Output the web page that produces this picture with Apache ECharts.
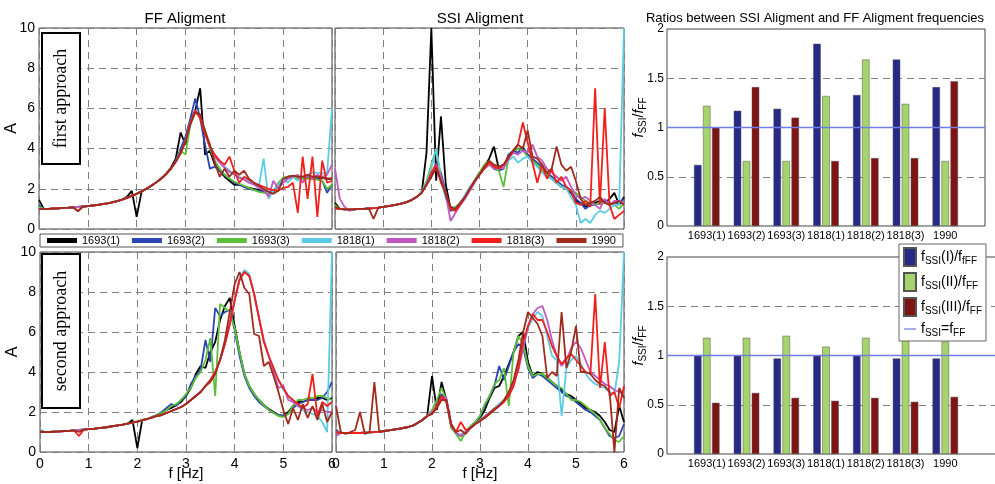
<!DOCTYPE html>
<html><head><meta charset="utf-8">
<script src="https://cdn.jsdelivr.net/npm/echarts@6/dist/echarts.min.js"></script>
<style>html,body{margin:0;padding:0;background:#fff}#c{width:995px;height:484px}</style>
</head><body><div id="c"></div>
<script>
// ---------- DATA ----------
const freq = [0,0.1,0.2,0.3,0.4,0.5,0.6,0.7,0.8,0.9,1.0,1.1,1.2,1.3,1.4,1.5,1.6,1.7,1.8,1.9,2.0,2.1,2.2,2.3,2.4,2.5,2.6,2.7,2.8,2.9,3.0,3.1,3.2,3.3,3.4,3.5,3.6,3.7,3.8,3.9,4.0,4.1,4.2,4.3,4.4,4.5,4.6,4.7,4.8,4.9,5.0,5.1,5.2,5.3,5.4,5.5,5.6,5.7,5.8,5.9,6.0];
const seriesNames = ['1693(1)','1693(2)','1693(3)','1818(1)','1818(2)','1818(3)','1990'];

// FF alignment, first approach (rows follow seriesNames)
const ffFirst = [
 [1.45,1.0,1.0,1.01,1.03,1.05,1.06,1.08,1.1,1.12, 1.14,1.17,1.2,1.24,1.28,1.33,1.39,1.46,1.6,1.9, 0.6,1.85,2.0,2.15,2.32,2.5,2.75,3.05,3.5,4.8, 4.2,5.4,5.9,7.0,3.7,3.9,3.2,2.9,2.6,2.4, 2.2,2.2,2.1,2.05,2.0,1.95,1.9,1.85,1.8,2.2, 2.5,2.6,2.6,2.55,2.6,2.55,2.6,2.5,2.55,2.5,2.5],
 [1.2,1.0,1.0,1.02,1.03,1.05,1.06,1.08,1.1,1.12, 1.14,1.17,1.2,1.24,1.28,1.33,1.39,1.46,1.55,1.65, 1.75,1.87,2.0,2.15,2.32,2.5,2.72,3.0,3.4,4.0, 4.6,5.5,6.5,5.5,4.2,3.0,3.1,2.9,2.7,2.5, 2.3,2.2,2.1,2.0,1.95,1.9,1.85,1.85,1.9,2.2, 2.5,2.55,2.6,2.6,2.5,2.55,2.5,2.5,2.4,1.8,2.2],
 [1.1,1.0,1.0,1.02,1.03,1.05,1.06,1.08,1.1,1.12, 1.14,1.17,1.2,1.24,1.28,1.33,1.39,1.46,1.55,1.65, 1.76,1.88,2.0,2.15,2.32,2.5,2.72,3.0,3.35,3.9, 3.7,5.2,5.8,5.6,4.9,4.0,3.4,3.0,2.7,2.5, 2.35,2.25,2.15,2.05,1.95,1.85,1.8,1.78,1.85,2.3, 2.55,2.6,2.6,2.55,2.5,2.5,2.5,2.45,2.4,2.0,2.2],
 [1.0,1.0,1.0,1.02,1.03,1.05,1.06,1.08,1.1,1.12, 1.14,1.17,1.2,1.24,1.28,1.33,1.39,1.46,1.55,1.65, 1.75,1.87,2.0,2.15,2.32,2.5,2.72,3.0,3.35,3.75, 4.4,5.3,5.85,5.6,4.8,4.1,3.6,3.3,3.1,2.9, 2.75,2.6,2.5,2.35,2.25,2.1,3.5,1.5,1.9,2.2, 2.5,2.3,2.6,2.4,2.6,2.7,2.8,2.8,2.75,2.8,6.0],
 [1.0,1.0,1.0,1.02,1.03,1.05,1.06,1.08,1.1,1.12, 1.14,1.17,1.2,1.24,1.28,1.33,1.39,1.46,1.55,1.65, 1.75,1.87,2.0,2.15,2.32,2.5,2.72,3.0,3.35,3.75, 4.4,5.3,5.85,5.6,4.8,4.1,3.6,3.3,3.05,2.85, 2.7,2.55,2.45,2.3,2.2,2.05,1.95,1.6,2.4,2.0, 2.3,2.5,2.6,2.7,2.3,2.7,2.5,2.7,2.6,2.7,3.2],
 [1.0,1.0,1.0,1.02,1.03,1.05,1.06,1.08,0.9,1.12, 1.14,1.17,1.2,1.24,1.28,1.33,1.39,1.46,1.55,1.65, 1.75,1.87,2.0,2.15,2.32,2.5,2.72,3.0,3.35,3.75, 4.35,5.3,5.9,5.5,4.7,4.1,3.7,3.4,3.2,3.6, 2.9,2.3,2.6,2.45,2.3,2.2,2.1,2.0,1.95,1.9, 2.05,2.1,2.3,0.8,3.6,1.5,3.6,0.6,3.4,2.3,2.4],
 [1.0,1.0,1.0,1.02,1.03,1.05,1.06,1.08,0.88,1.12, 1.14,1.17,1.2,1.24,1.28,1.33,1.39,1.46,1.55,1.65, 1.75,1.87,2.0,2.15,2.32,2.5,2.72,3.0,3.35,3.8, 4.4,5.2,5.8,5.7,4.9,4.2,3.3,2.6,3.0,2.6, 2.9,2.7,2.9,2.5,2.3,2.15,2.0,1.85,1.75,1.9, 2.5,2.6,2.65,2.6,2.6,2.7,2.6,2.6,2.55,2.5,2.5]
];
// SSI alignment, first approach
const ssiFirst = [
 [1.3,1.0,0.98,0.98,0.98,1.0,1.0,1.02,1.04,1.06, 1.1,1.14,1.18,1.22,1.28,1.35,1.45,1.6,1.8,3.8, 10,2.4,5.6,2.2,1.0,0.95,1.3,1.6,2.0,2.4, 2.8,3.1,3.5,4.1,3.0,3.1,3.6,3.9,4.0,4.0, 3.7,3.4,3.2,2.9,2.7,2.5,2.3,2.1,2.0,1.8, 1.4,1.3,1.1,1.2,1.3,1.4,1.3,1.5,1.8,1.2,1.6],
 [1.1,1.0,0.98,0.98,0.98,1.0,1.0,1.02,1.04,1.06, 1.1,1.14,1.18,1.22,1.28,1.35,1.45,1.6,1.85,2.2, 2.6,3.3,2.8,1.8,0.9,1.0,1.3,1.6,2.0,2.4, 2.8,3.1,3.3,3.0,2.9,3.0,3.7,3.9,3.8,4.1, 3.7,3.5,3.3,3.1,2.8,2.6,2.4,2.2,2.1,1.9, 1.5,1.3,1.0,1.2,1.2,1.3,1.4,1.3,1.2,1.3,1.5],
 [1.2,1.0,0.98,0.98,0.98,1.0,1.0,1.02,1.04,1.06, 1.1,1.14,1.18,1.22,1.28,1.35,1.45,1.6,1.85,2.4, 3.2,4.0,2.6,1.6,1.0,1.1,1.3,1.6,2.0,2.4, 2.8,3.2,3.4,3.1,2.9,2.1,3.5,3.9,4.0,3.9, 3.6,3.4,3.2,2.9,2.7,2.5,2.3,2.1,2.0,1.9, 1.8,1.6,1.4,1.3,1.2,1.3,1.3,1.3,1.2,1.0,1.3],
 [1.0,1.0,0.98,0.98,0.98,1.0,1.0,1.02,1.04,1.06, 1.1,1.14,1.18,1.22,1.28,1.35,1.45,1.6,1.85,2.3, 3.0,4.0,2.5,1.5,1.1,1.0,1.3,1.7,2.1,2.4, 2.7,3.0,3.2,3.1,3.0,3.1,3.4,3.6,3.3,3.5, 3.6,3.3,3.1,2.8,2.6,2.5,2.3,2.1,2.0,1.6, 1.2,0.3,0.5,0.3,0.7,0.9,0.8,1.0,1.2,1.2,10],
 [3.0,1.5,1.1,0.9,1.0,1.0,1.0,1.02,1.04,1.06, 1.1,1.14,1.18,1.22,1.28,1.35,1.45,1.6,1.8,2.2, 2.8,3.2,2.6,1.7,0.4,0.8,1.2,1.5,1.9,2.3, 2.7,3.0,3.2,3.0,3.1,3.0,3.5,3.8,3.7,3.9, 3.8,4.2,3.6,3.4,3.0,2.8,2.6,2.4,2.6,2.1, 1.7,1.5,1.6,1.4,1.2,1.0,1.5,1.2,1.4,1.4,1.3],
 [1.0,1.0,0.98,0.98,0.98,1.0,1.0,1.02,1.04,1.06, 1.1,1.14,1.18,1.22,1.28,1.35,1.45,1.6,1.8,2.2, 2.8,3.2,2.3,1.8,1.0,0.9,1.2,1.6,2.0,2.4, 2.7,3.0,3.3,3.1,3.0,3.2,3.5,3.9,4.2,5.3, 4.3,3.3,2.3,3.2,2.5,3.0,2.3,2.6,2.1,1.9, 1.3,1.2,1.4,1.1,7.0,1.2,6.0,1.2,0.5,0.7,0.9],
 [1.1,1.0,0.98,0.98,0.98,1.0,1.0,1.02,0.5,1.06, 1.1,1.14,1.18,1.22,1.28,1.35,1.45,1.6,1.8,2.2, 2.6,3.0,2.4,1.7,1.1,1.0,1.3,1.6,2.0,2.4, 2.7,3.1,3.4,3.2,3.1,3.2,3.6,3.9,4.2,4.0, 4.9,3.6,3.5,3.2,2.8,3.0,4.1,3.2,2.9,3.1, 2.4,1.5,1.2,1.3,1.4,1.6,1.3,1.2,1.3,1.4,1.2]
];
// FF alignment, second approach
const ffSecond = [
 [1.0,1.0,1.0,1.02,1.03,1.05,1.06,1.08,1.1,1.12, 1.14,1.16,1.19,1.22,1.25,1.29,1.33,1.37,1.42,1.6, 0.2,1.6,1.65,1.75,1.85,1.95,2.1,2.2,2.35,2.5, 2.8,3.2,3.9,4.3,4.2,5.0,5.5,6.6,7.3,7.7, 6.3,5.0,3.9,3.3,2.9,2.6,2.35,2.15,2.0,1.85, 1.8,2.0,2.3,2.5,2.5,2.6,2.6,2.7,2.7,2.6,2.7],
 [1.1,1.0,1.0,1.02,1.03,1.05,1.06,1.08,1.1,1.12, 1.14,1.16,1.19,1.22,1.25,1.29,1.33,1.37,1.42,1.47, 1.52,1.58,1.65,1.75,1.85,2.0,2.2,2.4,2.3,2.6, 2.8,3.4,3.8,4.1,5.6,4.5,7.2,6.8,7.0,7.1, 6.1,4.8,3.8,3.2,2.8,2.5,2.3,2.1,1.95,1.85, 1.8,1.9,2.2,2.4,2.5,2.6,2.6,2.6,2.7,3.0,3.5],
 [1.05,1.0,1.0,1.02,1.03,1.05,1.06,1.08,1.1,1.12, 1.14,1.16,1.19,1.22,1.25,1.29,1.33,1.37,1.42,1.47, 1.55,1.6,1.65,1.75,1.85,1.95,2.1,2.3,2.4,2.6, 2.9,3.2,3.7,4.0,4.6,5.7,2.8,7.4,7.2,7.0, 6.2,5.0,3.9,3.3,2.9,2.6,2.35,2.1,1.95,1.8, 1.75,1.9,2.3,2.6,2.6,2.7,2.7,2.8,2.8,2.7,2.6],
 [1.0,1.0,1.0,1.02,1.03,1.05,1.06,1.08,1.1,1.12, 1.14,1.16,1.19,1.22,1.25,1.29,1.33,1.37,1.42,1.47, 1.52,1.58,1.65,1.72,1.8,1.85,1.95,2.05,2.15,2.25, 2.4,2.6,2.8,3.0,3.3,3.6,4.0,4.6,5.4,6.4, 7.6,8.7,9.1,8.9,7.9,6.7,5.5,4.8,4.2,3.6, 3.1,2.8,2.5,2.3,2.1,2.0,1.9,1.8,1.5,1.0,10],
 [1.0,1.0,1.0,1.02,1.03,1.05,1.06,1.08,1.1,1.12, 1.14,1.16,1.19,1.22,1.25,1.29,1.33,1.37,1.42,1.47, 1.52,1.58,1.65,1.72,1.8,1.85,1.95,2.05,2.15,2.25, 2.4,2.6,2.8,3.0,3.3,3.6,4.0,4.6,5.4,6.4, 7.6,8.6,9.0,8.8,7.9,6.7,5.6,4.8,4.0,3.2, 3.3,2.6,2.5,2.3,2.2,2.1,2.2,2.0,2.1,2.0,2.0],
 [1.0,1.0,1.0,1.02,1.03,1.05,1.06,1.08,0.8,1.12, 1.14,1.16,1.19,1.22,1.25,1.29,1.33,1.37,1.42,1.47, 1.52,1.58,1.65,1.72,1.8,1.85,1.95,2.05,2.15,2.25, 2.4,2.6,2.8,3.0,3.3,3.6,4.0,4.6,5.4,6.4, 7.6,8.6,9.0,8.8,7.9,6.7,5.5,4.8,4.2,3.6, 3.2,2.8,2.6,2.4,2.2,2.4,3.9,1.8,2.5,2.3,2.5],
 [1.0,1.0,1.0,1.02,1.03,1.05,1.06,1.08,1.0,1.12, 1.14,1.16,1.19,1.22,1.25,1.29,1.33,1.37,1.42,1.47, 1.52,1.58,1.65,1.72,1.8,1.85,1.95,2.05,2.15,2.25, 2.4,2.6,2.8,3.0,3.3,3.5,3.9,4.6,5.6,7.0, 8.4,9.0,8.2,7.9,5.9,5.8,4.3,4.5,3.8,3.0, 2.1,1.4,2.2,1.6,2.4,1.7,2.3,1.6,2.4,1.5,2.0]
];
// SSI alignment, second approach
const ssiSecond = [
 [1.0,0.95,0.95,0.95,0.95,0.95,0.97,0.98,1.0,1.02, 1.05,1.08,1.12,1.16,1.2,1.25,1.32,1.45,1.6,1.8, 3.8,2.1,3.5,2.6,1.3,0.95,0.8,0.95,1.2,1.45, 1.7,2.1,2.7,3.2,3.3,3.8,4.4,5.0,5.8,6.0, 4.5,3.8,4.0,3.9,3.7,3.5,3.3,3.1,2.9,2.8, 2.6,2.4,2.2,2.1,2.0,1.8,1.5,1.1,1.0,2.3,1.5],
 [1.1,0.95,0.95,0.95,0.95,0.95,0.97,0.98,1.0,1.02, 1.05,1.08,1.12,1.16,1.2,1.25,1.32,1.45,1.6,1.8, 2.0,2.3,2.9,2.5,1.3,0.95,0.85,1.0,1.25,1.5, 1.8,2.3,2.8,3.3,4.3,3.6,4.3,5.0,5.4,5.2, 4.2,3.7,3.9,3.8,3.6,3.4,3.2,3.0,2.8,2.7, 2.5,2.3,2.1,2.0,1.8,1.6,1.2,0.8,0.7,0.8,1.4],
 [1.0,0.95,0.95,0.95,0.95,0.95,0.97,0.98,1.0,1.02, 1.05,1.08,1.12,1.16,1.2,1.25,1.32,1.45,1.6,1.8, 2.1,2.6,3.2,2.6,1.2,0.9,0.55,1.0,1.3,1.5, 1.8,2.4,2.8,3.4,3.6,4.2,2.3,5.0,5.8,5.4, 4.3,3.8,3.9,3.9,3.7,3.5,3.3,3.2,2.9,2.6, 2.6,2.5,2.3,2.1,1.9,1.6,1.2,0.9,0.6,0.5,0.8],
 [1.0,0.95,0.95,0.95,0.95,0.95,0.97,0.98,1.0,1.02, 1.05,1.08,1.12,1.16,1.2,1.25,1.32,1.45,1.6,1.8, 2.0,2.3,2.7,2.5,1.3,0.95,0.85,1.0,1.2,1.4, 1.6,1.8,2.0,2.2,2.4,2.6,2.9,3.5,4.3,5.2, 6.2,6.7,7.0,6.8,5.8,4.8,4.6,1.8,4.2,4.6, 4.8,4.4,3.9,3.6,3.4,3.3,3.2,3.0,2.9,4.5,10],
 [0.8,0.95,0.95,0.95,0.95,0.95,0.97,0.98,1.0,1.02, 1.05,1.08,1.12,1.16,1.2,1.25,1.32,1.45,1.6,1.8, 2.0,2.3,2.7,2.7,1.4,0.95,0.8,1.0,1.2,1.4, 1.55,1.75,1.95,2.15,2.35,2.55,2.9,3.4,4.1,5.2, 6.3,6.9,7.2,7.3,6.6,5.6,4.8,4.3,4.6,5.2, 5.5,5.2,4.6,4.0,3.8,3.6,3.4,3.3,3.1,3.0,2.9],
 [1.0,0.95,0.95,0.95,0.95,0.95,0.97,0.98,1.0,1.02, 1.05,1.08,1.12,1.16,1.2,1.25,1.32,1.45,1.6,1.8, 1.9,2.3,2.8,2.5,1.3,1.0,1.5,1.1,1.2,1.4, 1.55,1.75,1.95,2.15,2.3,2.5,2.8,3.3,4.2,5.5, 6.3,6.9,6.6,6.6,6.0,5.3,4.8,4.4,4.7,4.9, 4.6,4.3,4.0,3.9,7.9,3.2,5.5,2.8,3.0,2.2,3.3],
 [2.3,1.0,0.9,1.0,1.1,2.0,0.9,1.0,3.5,1.0, 1.05,1.08,1.12,1.16,1.2,1.25,1.32,1.45,1.6,1.8, 1.9,2.2,2.6,2.6,1.4,1.0,1.1,0.9,1.2,1.4, 1.55,1.7,1.9,2.1,2.3,2.6,3.0,3.6,4.6,6.0, 7.0,6.7,6.4,5.8,3.7,4.0,3.8,7.0,4.2,5.0, 6.3,4.0,4.0,3.9,3.6,3.4,3.3,3.0,0.0,3.2,2.7]
];

// Bar charts: ratio of SSI / FF alignment frequencies
const categories = ['1693(1)','1693(2)','1693(3)','1818(1)','1818(2)','1818(3)','1990'];
const catPos = [1,2,3,4,5,6,7];
const ratioFirstI   = [0.62,1.17,1.19,1.85,1.33,1.69,1.41];
const ratioFirstII  = [1.22,0.66,0.66,1.32,1.69,1.24,0.66];
const ratioFirstIII = [1.00,1.41,1.10,0.66,0.69,0.69,1.47];
const ratioSecondI   = [1.00,1.00,0.97,1.00,1.00,0.97,0.97];
const ratioSecondII  = [1.18,1.18,1.20,1.09,1.18,1.16,1.14];
const ratioSecondIII = [0.52,0.62,0.57,0.54,0.57,0.53,0.58];
const unityRatio = 1;
const barAxisMax = [8, 8.3];
const barNames = ['fSSI(I)/ffFF','fSSI(II)/fFF','fSSI(III)/fFF'];
const unityName = 'fSSI=fFF';

// ---------- STYLE ----------
const FONT = 'Liberation Sans, Arial, sans-serif';
const lineColors = ['#000000','#2b46b2','#5cbf3a','#5ccbe3','#c058c0','#f2201c','#a02a1c'];
const barColors = ['#262a86','#a6d46c','#7f1414'];
const unityColor = '#6f7ee6';
const dash = [7,5];

const chart = echarts.init(document.getElementById('c'), null, {renderer:'canvas'});

const gridDefs = [
  {left:39, top:28, width:293, height:201},
  {left:335, top:28, width:289, height:201},
  {left:40, top:252, width:292, height:200},
  {left:336, top:252, width:288, height:200},
  {left:667, top:29, width:318, height:197},
  {left:667, top:257, width:330, height:197}
];
const grid = gridDefs.map(g=>Object.assign({show:true, borderColor:'#444', borderWidth:1, backgroundColor:'transparent', containLabel:false, outerBoundsMode:'none'}, g));

const xAxis = [], yAxis = [];
for (let i=0;i<4;i++){
  const bottom = i>=2;
  xAxis.push({type:'value', gridIndex:i, min:0, max:6, interval:1,
    axisLine:{show:false}, axisTick:{show:false},
    axisLabel:{show:bottom, fontSize:14, color:'#000', fontFamily:FONT, margin:5},
    splitLine:{show:true, lineStyle:{type:dash, color:'#808080', width:1}},
    name: bottom ? 'f [Hz]' : '', nameLocation:'middle', nameGap:14, nameMoveOverlap:false,
    nameTextStyle:{fontSize:15, color:'#000', fontFamily:FONT}});
  const left = (i%2===0);
  yAxis.push({type:'value', gridIndex:i, min:0, max:10, interval:2,
    axisLine:{show:false}, axisTick:{show:false},
    axisLabel:{show:left, fontSize:14, color:'#000', fontFamily:FONT, margin:4},
    splitLine:{show:true, lineStyle:{type:dash, color:'#808080', width:1}},
    name: left ? 'A' : '', nameLocation:'middle', nameRotate:90, nameGap:19, nameMoveOverlap:false,
    nameTextStyle:{fontSize:16, color:'#000', fontFamily:FONT}});
}
const yNameRich = {
  i:{fontSize:14, fontStyle:'italic', fontFamily:FONT, color:'#000', lineHeight:18},
  m:{fontSize:14, fontFamily:FONT, color:'#000', lineHeight:18},
  s:{fontSize:10, fontFamily:FONT, color:'#000', lineHeight:10, verticalAlign:'bottom'}
};
[4,5].forEach((gi,j)=>{
  xAxis.push({type:'value', gridIndex:gi, min:0, max: barAxisMax[j], interval:1,
    axisLine:{show:false}, axisTick:{show:false}, splitLine:{show:false},
    axisLabel:{fontSize:11, color:'#000', fontFamily:FONT, margin:4,
      formatter:v=>{const k=catPos.indexOf(v); return k>=0?categories[k]:'';}}});
  yAxis.push({type:'value', gridIndex:gi, min:0, max:2, interval:0.5,
    axisLine:{show:false}, axisTick:{show:false},
    axisLabel:{fontSize:12, color:'#000', fontFamily:FONT, margin:3},
    splitLine:{show:false},
    name:'{i|f}{s|SSI}{m|/}{i|f}{s|FF}', nameLocation:'middle', nameRotate:90, nameGap:19, nameMoveOverlap:false,
    nameTextStyle:{rich:yNameRich, padding:[0,0,0,20]}});
});
// helper axes: dashed grid lines only at the half steps (0.5 and 1.5)
[4,5].forEach(gi=>{
  yAxis.push({type:'value', gridIndex:gi, min:0, max:2, interval:1, show:true,
    axisLine:{show:false}, axisTick:{show:false}, axisLabel:{show:false}, splitLine:{show:false},
    minorTick:{show:false, splitNumber:2},
    minorSplitLine:{show:true, lineStyle:{type:dash, color:'#808080', width:1}}});
});

const series = [];
[ffFirst, ssiFirst, ffSecond, ssiSecond].forEach((panel,gi)=>{
  panel.forEach((vals,k)=>{
    series.push({type:'line', name:seriesNames[k], xAxisIndex:gi, yAxisIndex:gi,
      data: freq.map((f,i)=>[f, vals[i]]), symbol:'none', showSymbol:false,
      lineStyle:{width:1.8, color:lineColors[k]}, itemStyle:{color:lineColors[k]},
      animation:false, clip:true, z:2});
  });
});
function barSeries(name, vals, ax, color){
  return {type:'bar', name, xAxisIndex:ax, yAxisIndex:ax,
    data: catPos.map((p,k)=>[p, vals[k]]), barWidth:7.5, barGap:'20%',
    itemStyle:{color, borderColor:'#555', borderWidth:0.5}, animation:false, z:2};
}
series.push(barSeries(barNames[0], ratioFirstI, 4, barColors[0]));
series.push(barSeries(barNames[1], ratioFirstII, 4, barColors[1]));
series.push(barSeries(barNames[2], ratioFirstIII, 4, barColors[2]));
series.push(barSeries(barNames[0], ratioSecondI, 5, barColors[0]));
series.push(barSeries(barNames[1], ratioSecondII, 5, barColors[1]));
series.push(barSeries(barNames[2], ratioSecondIII, 5, barColors[2]));
// reference line f_SSI = f_FF across each bar chart's axis range
[4,5].forEach((ax,j)=>{
  series.push({type:'line', name:unityName, xAxisIndex:ax, yAxisIndex:ax,
    data:[[0, unityRatio],[barAxisMax[j], unityRatio]], symbol:'none', showSymbol:false,
    color:unityColor,
    lineStyle:{color:unityColor, width:1.4, type:'solid', opacity:1}, itemStyle:{color:unityColor},
    emphasis:{disabled:true}, silent:true, animation:false, z:5});
});

const legendLabels = {
  'fSSI(I)/ffFF':'{m|f}{s|SSI}{m|(I)/f}{s|fFF}',
  'fSSI(II)/fFF':'{m|f}{s|SSI}{m|(II)/f}{s|FF}',
  'fSSI(III)/fFF':'{m|f}{s|SSI}{m|(III)/f}{s|FF}',
  'fSSI=fFF':'{m|f}{s|SSI}{m|=f}{s|FF}'
};
const legRich = {
  m:{fontSize:14, fontFamily:FONT, color:'#000', lineHeight:18},
  s:{fontSize:10, fontFamily:FONT, color:'#000', lineHeight:10, verticalAlign:'bottom'}
};

const option = {
  animation:false,
  backgroundColor:'#fff',
  grid, xAxis, yAxis, series,
  legend:[
    {data:seriesNames, left:40, top:234, orient:'horizontal', icon:'rect',
     itemWidth:30, itemHeight:5, itemGap:12, padding:[1,7,1,7],
     textStyle:{fontSize:11, color:'#000', fontFamily:FONT},
     borderColor:'#555', borderWidth:1, backgroundColor:'#fff', selectedMode:false, z:10},
    {data:[{name:barNames[0],icon:'rect'},{name:barNames[1],icon:'rect'},{name:barNames[2],icon:'rect'},
           {name:unityName, icon:'path://M0,0 L12,0 L12,1.2 L0,1.2 Z'}],
     orient:'vertical', left:899, top:244, itemWidth:12, itemHeight:18, itemGap:5,
     symbolKeepAspect:true,
     padding:[3,4,3,4], formatter:n=>legendLabels[n], textStyle:{rich:legRich},
     borderColor:'#666', borderWidth:1, backgroundColor:'#fff', selectedMode:false, z:10}
  ],
  graphic:[
    {type:'text', x:185, y:19, z:20, style:{text:'FF Aligment', font:'15px '+FONT, fill:'#000', textAlign:'center', textVerticalAlign:'middle'}},
    {type:'text', x:480, y:19, z:20, style:{text:'SSI Aligment', font:'15px '+FONT, fill:'#000', textAlign:'center', textVerticalAlign:'middle'}},
    {type:'text', x:815, y:18, z:20, style:{text:'Ratios between SSI Aligment and FF Aligment frequencies', font:'13px '+FONT, fill:'#000', textAlign:'center', textVerticalAlign:'middle'}},
    {type:'rect', z:20, shape:{x:42, y:33, width:38, height:131}, style:{fill:'#fff', stroke:'#000', lineWidth:2}},
    {type:'text', z:21, x:61, y:98.5, rotation:Math.PI/2, style:{text:'first approach', font:'18px Liberation Serif, Times New Roman, serif', fill:'#000', textAlign:'center', textVerticalAlign:'middle'}},
    {type:'rect', z:20, shape:{x:42, y:254, width:38, height:154}, style:{fill:'#fff', stroke:'#000', lineWidth:2}},
    {type:'text', z:21, x:61, y:331, rotation:Math.PI/2, style:{text:'second approach', font:'18px Liberation Serif, Times New Roman, serif', fill:'#000', textAlign:'center', textVerticalAlign:'middle'}}
  ]
};
chart.setOption(option);
</script>
</body></html>
